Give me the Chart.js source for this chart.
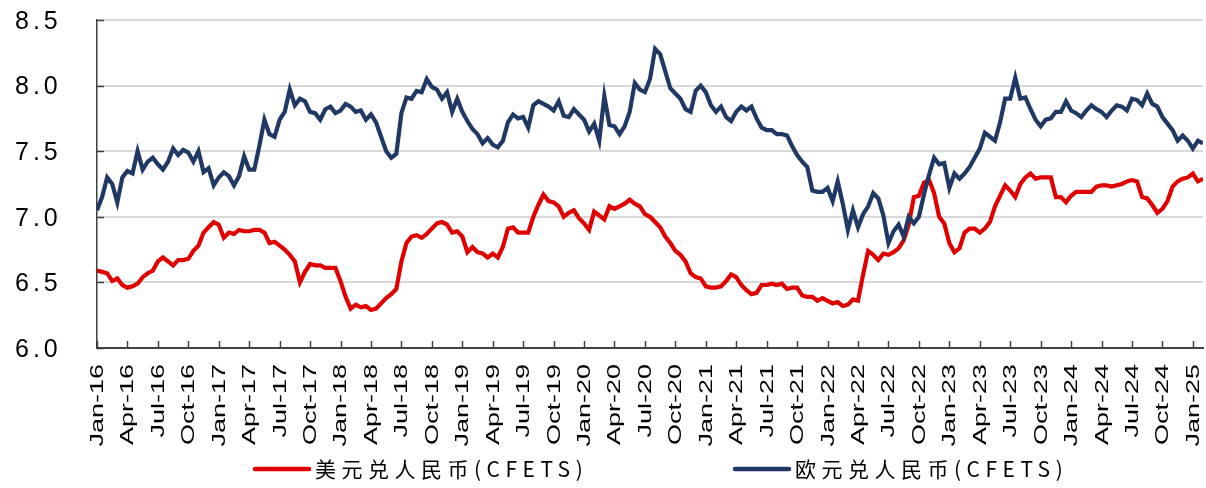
<!DOCTYPE html>
<html>
<head>
<meta charset="utf-8">
<script src="https://cdn.jsdelivr.net/npm/chart.js@4/dist/chart.umd.min.js"></script>
<style>
  html, body { margin: 0; padding: 0; background: #ffffff; }
  #wrap { width: 1206px; height: 488px; }
</style>
</head>
<body>
<div id="wrap"><canvas id="c" width="1206" height="488"></canvas></div>
<script>
// Quarterly category labels on the x axis (month index 0 = Jan 2016)
const tickLabels = ['Jan-16','Apr-16','Jul-16','Oct-16','Jan-17','Apr-17','Jul-17','Oct-17',
  'Jan-18','Apr-18','Jul-18','Oct-18','Jan-19','Apr-19','Jul-19','Oct-19',
  'Jan-20','Apr-20','Jul-20','Oct-20','Jan-21','Apr-21','Jul-21','Oct-21',
  'Jan-22','Apr-22','Jul-22','Oct-22','Jan-23','Apr-23','Jul-23','Oct-23',
  'Jan-24','Apr-24','Jul-24','Oct-24','Jan-25'];

const seriesNames = ['美元兑人民币(CFETS)', '欧元兑人民币(CFETS)'];

// Half-monthly readings, starting Jan 2016
const usdCny = [
  6.59,6.58,6.57,6.51,6.53,6.48,6.46,6.47,6.49,6.54,
  6.57,6.59,6.66,6.69,6.66,6.63,6.67,6.67,6.68,6.74,
  6.78,6.88,6.92,6.96,6.94,6.84,6.88,6.87,6.90,6.89,
  6.89,6.90,6.90,6.88,6.80,6.81,6.78,6.75,6.71,6.66,
  6.50,6.58,6.64,6.63,6.63,6.61,6.61,6.61,6.51,6.39,
  6.30,6.33,6.31,6.32,6.29,6.30,
  6.34,6.38,6.41,6.45,6.66,6.80,6.85,6.86,6.84,6.87,
  6.91,6.95,6.96,6.94,6.88,6.89,6.85,6.73,6.77,6.73,
  6.72,6.69,6.72,6.69,6.77,6.91,6.92,6.88,6.88,6.88,
  7.00,7.09,7.17,7.12,7.11,7.08,7.00,7.03,7.05,6.99,
  6.95,6.90,7.04,7.01,6.98,7.08,7.06,7.08,7.10,7.13,
  7.10,7.08,7.02,
  7.00,6.96,6.92,6.85,6.80,6.74,6.71,6.66,6.57,6.54,
  6.53,6.47,6.46,6.46,6.47,6.51,6.56,6.54,6.48,6.44,
  6.41,6.42,6.48,6.48,6.49,6.48,6.49,6.45,6.46,6.46,
  6.40,6.39,6.39,6.36,6.38,6.36,6.34,6.35,6.32,6.33,
  6.37,6.36,6.56,6.74,6.71,6.67,6.72,6.71,6.73,6.76,
  6.82,6.94,7.15,7.16,
  7.26,7.28,7.18,7.00,6.95,6.80,6.73,6.76,6.88,6.91,
  6.91,6.88,6.91,6.96,7.08,7.16,7.24,7.20,7.15,7.25,
  7.30,7.33,7.29,7.30,7.30,7.30,7.15,7.15,7.11,7.16,
  7.19,7.19,7.19,7.19,7.23,7.24,7.24,7.23,7.24,7.25,
  7.27,7.28,7.27,7.15,7.14,7.09,7.03,7.06,7.12,7.23,
  7.27,7.29,7.30,7.33,7.27,7.29
];

const eurCny = [
  7.05,7.15,7.30,7.25,7.11,7.30,7.35,7.33,7.50,7.36,
  7.42,7.45,7.40,7.36,7.42,7.52,7.47,7.51,7.49,7.42,
  7.50,7.34,7.37,7.24,7.30,7.34,7.31,7.24,7.31,7.46,
  7.36,7.36,7.54,7.74,7.63,7.61,7.74,7.80,7.97,7.85,
  7.90,7.88,7.80,7.79,7.74,7.82,7.84,7.79,7.81,7.86,
  7.84,7.80,7.81,7.74,7.78,7.72,
  7.61,7.50,7.45,7.48,7.79,7.91,7.90,7.96,7.95,8.05,
  7.99,7.97,7.90,7.95,7.80,7.90,7.80,7.73,7.67,7.63,
  7.56,7.60,7.55,7.53,7.58,7.72,7.78,7.75,7.76,7.68,
  7.85,7.88,7.86,7.84,7.81,7.88,7.77,7.76,7.82,7.78,
  7.74,7.65,7.71,7.58,7.92,7.70,7.69,7.63,7.69,7.80,
  8.02,7.97,7.95,
  8.05,8.28,8.24,8.11,7.98,7.94,7.90,7.82,7.80,7.96,
  8.00,7.95,7.85,7.80,7.84,7.76,7.73,7.80,7.84,7.81,
  7.84,7.75,7.68,7.66,7.66,7.63,7.63,7.62,7.54,7.47,
  7.42,7.38,7.20,7.19,7.19,7.22,7.12,7.27,7.10,6.90,
  7.05,6.92,7.02,7.08,7.18,7.14,7.01,6.80,6.89,6.94,
  6.85,7.00,6.95,7.00,
  7.17,7.32,7.45,7.40,7.41,7.22,7.33,7.29,7.33,7.38,
  7.45,7.52,7.64,7.61,7.58,7.72,7.90,7.90,8.06,7.90,
  7.91,7.82,7.74,7.69,7.74,7.75,7.80,7.80,7.88,7.81,
  7.79,7.76,7.81,7.85,7.82,7.80,7.76,7.81,7.85,7.84,
  7.81,7.90,7.89,7.85,7.94,7.86,7.84,7.76,7.71,7.66,
  7.58,7.62,7.58,7.52,7.58,7.56
];

const toPoints = arr => arr.map((v, i) => ({ x: i / 2, y: v }));

const RED = '#E00000';
const BLUE = '#1F3864';

const overlay = {
  id: 'overlay',
  afterDraw(chart) {
    const ctx = chart.ctx;
    const xs = chart.scales.x, ys = chart.scales.y;
    const a = chart.chartArea;
    ctx.save();
    // inward tick marks
    ctx.strokeStyle = '#404040';
    ctx.lineWidth = 1.5;
    tickLabels.forEach((lab, i) => {
      const px = Math.round(xs.getPixelForValue(i * 3)) + 0.5;
      ctx.beginPath(); ctx.moveTo(px, a.bottom); ctx.lineTo(px, a.bottom - 7); ctx.stroke();
    });
    ys.ticks.forEach(t => {
      const py = Math.round(ys.getPixelForValue(t.value)) + 0.5;
      ctx.beginPath(); ctx.moveTo(a.left, py); ctx.lineTo(a.left + 7, py); ctx.stroke();
    });
    // y labels
    ctx.fillStyle = '#000000';
    ctx.font = '25px "Liberation Sans", Arial, sans-serif';
    ctx.textAlign = 'left';
    ctx.textBaseline = 'middle';
    try { ctx.letterSpacing = '4px'; } catch (e) {}
    ys.ticks.forEach(t => {
      ctx.fillText(t.value.toFixed(1), 15, ys.getPixelForValue(t.value) + 2);
    });
    try { ctx.letterSpacing = '0px'; } catch (e) {}
    // x labels (rotated, stretched along the text)
    ctx.font = '18px "Liberation Sans", Arial, sans-serif';
    tickLabels.forEach((lab, i) => {
      const px = xs.getPixelForValue(i * 3);
      ctx.save();
      ctx.translate(px + 1, a.bottom + 16);
      ctx.rotate(-Math.PI / 2);
      ctx.scale(1.5, 1);
      ctx.textAlign = 'right';
      ctx.textBaseline = 'middle';
      ctx.fillText(lab, 0, 0);
      ctx.restore();
    });
    // legend
    const legendY = 469;
    const items = [
      { x: 253, color: RED, text: seriesNames[0] },
      { x: 733, color: BLUE, text: seriesNames[1] }
    ];
    items.forEach(it => {
      ctx.strokeStyle = it.color;
      ctx.lineWidth = 4.5;
      ctx.lineCap = 'round';
      ctx.beginPath(); ctx.moveTo(it.x + 2, legendY); ctx.lineTo(it.x + 56, legendY); ctx.stroke();
      ctx.fillStyle = '#000000';
      ctx.font = '21px "Noto Sans CJK SC", sans-serif';
      ctx.textAlign = 'left';
      ctx.textBaseline = 'middle';
      try { ctx.letterSpacing = '5.5px'; } catch (e) {}
      ctx.fillText(it.text, it.x + 62, legendY);
      try { ctx.letterSpacing = '0px'; } catch (e) {}
    });
    ctx.restore();
  }
};

new Chart(document.getElementById('c'), {
  type: 'line',
  data: {
    datasets: [
      { label: seriesNames[0], data: toPoints(usdCny), borderColor: RED, backgroundColor: RED,
        borderWidth: 4.2, pointRadius: 0, tension: 0, order: 1 },
      { label: seriesNames[1], data: toPoints(eurCny), borderColor: BLUE, backgroundColor: BLUE,
        borderWidth: 4.2, pointRadius: 0, tension: 0, order: 0 }
    ]
  },
  options: {
    responsive: false,
    devicePixelRatio: 1,
    animation: false,
    events: [],
    layout: { padding: { left: 97, right: 3, top: 20, bottom: 140 } },
    plugins: { legend: { display: false }, tooltip: { enabled: false } },
    scales: {
      x: {
        type: 'linear', min: 0, max: 109,
        grid: { display: false, drawTicks: false },
        border: { display: true, color: '#404040', width: 2 },
        ticks: { display: false, stepSize: 3 },
        afterFit: s => { s.height = 0; }
      },
      y: {
        min: 6.0, max: 8.5,
        grid: { color: '#D9D9D9', lineWidth: 2, drawTicks: false },
        border: { display: true, color: '#404040', width: 1.5 },
        ticks: { display: false, stepSize: 0.5 },
        afterFit: s => { s.width = 0; }
      }
    }
  },
  plugins: [overlay]
});
</script>
</body>
</html>
